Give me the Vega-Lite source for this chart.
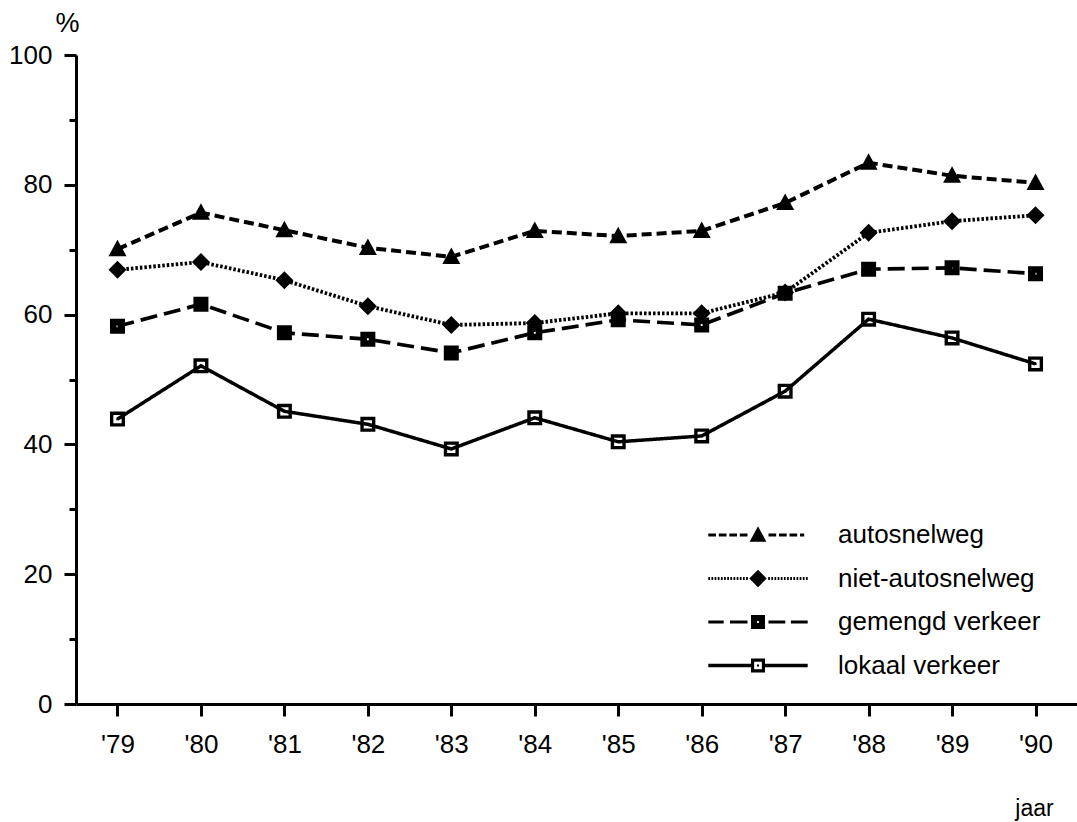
{
  "$schema": "https://vega.github.io/schema/vega-lite/v6.json",
  "width": 1001,
  "height": 649,
  "autosize": {"type": "none"},
  "padding": {"left": 76, "top": 55, "right": 0, "bottom": 118},
  "background": "white",
  "config": {
    "view": {"stroke": null},
    "font": "Liberation Sans",
    "axis": {
      "labelFont": "Liberation Sans",
      "titleFont": "Liberation Sans",
      "labelColor": "black",
      "titleColor": "black",
      "domainColor": "black",
      "tickColor": "black",
      "domainWidth": 3,
      "tickWidth": 3,
      "labelFontSize": 26,
      "titleFontWeight": "normal",
      "grid": false
    }
  },
  "data": {
    "values": [
      {"jaar": "'79", "reeks": "autosnelweg", "pct": 70.1},
      {"jaar": "'80", "reeks": "autosnelweg", "pct": 75.7},
      {"jaar": "'81", "reeks": "autosnelweg", "pct": 73.0},
      {"jaar": "'82", "reeks": "autosnelweg", "pct": 70.3},
      {"jaar": "'83", "reeks": "autosnelweg", "pct": 68.9},
      {"jaar": "'84", "reeks": "autosnelweg", "pct": 72.9},
      {"jaar": "'85", "reeks": "autosnelweg", "pct": 72.1},
      {"jaar": "'86", "reeks": "autosnelweg", "pct": 72.9},
      {"jaar": "'87", "reeks": "autosnelweg", "pct": 77.2},
      {"jaar": "'88", "reeks": "autosnelweg", "pct": 83.4},
      {"jaar": "'89", "reeks": "autosnelweg", "pct": 81.4},
      {"jaar": "'90", "reeks": "autosnelweg", "pct": 80.3},
      {"jaar": "'79", "reeks": "niet-autosnelweg", "pct": 66.9},
      {"jaar": "'80", "reeks": "niet-autosnelweg", "pct": 68.1},
      {"jaar": "'81", "reeks": "niet-autosnelweg", "pct": 65.3},
      {"jaar": "'82", "reeks": "niet-autosnelweg", "pct": 61.3},
      {"jaar": "'83", "reeks": "niet-autosnelweg", "pct": 58.4},
      {"jaar": "'84", "reeks": "niet-autosnelweg", "pct": 58.7},
      {"jaar": "'85", "reeks": "niet-autosnelweg", "pct": 60.2},
      {"jaar": "'86", "reeks": "niet-autosnelweg", "pct": 60.2},
      {"jaar": "'87", "reeks": "niet-autosnelweg", "pct": 63.4},
      {"jaar": "'88", "reeks": "niet-autosnelweg", "pct": 72.6},
      {"jaar": "'89", "reeks": "niet-autosnelweg", "pct": 74.4},
      {"jaar": "'90", "reeks": "niet-autosnelweg", "pct": 75.3},
      {"jaar": "'79", "reeks": "gemengd verkeer", "pct": 58.2},
      {"jaar": "'80", "reeks": "gemengd verkeer", "pct": 61.6},
      {"jaar": "'81", "reeks": "gemengd verkeer", "pct": 57.2},
      {"jaar": "'82", "reeks": "gemengd verkeer", "pct": 56.2},
      {"jaar": "'83", "reeks": "gemengd verkeer", "pct": 54.1},
      {"jaar": "'84", "reeks": "gemengd verkeer", "pct": 57.2},
      {"jaar": "'85", "reeks": "gemengd verkeer", "pct": 59.2},
      {"jaar": "'86", "reeks": "gemengd verkeer", "pct": 58.4},
      {"jaar": "'87", "reeks": "gemengd verkeer", "pct": 63.3},
      {"jaar": "'88", "reeks": "gemengd verkeer", "pct": 67.0},
      {"jaar": "'89", "reeks": "gemengd verkeer", "pct": 67.2},
      {"jaar": "'90", "reeks": "gemengd verkeer", "pct": 66.3},
      {"jaar": "'79", "reeks": "lokaal verkeer", "pct": 43.9},
      {"jaar": "'80", "reeks": "lokaal verkeer", "pct": 52.1},
      {"jaar": "'81", "reeks": "lokaal verkeer", "pct": 45.1},
      {"jaar": "'82", "reeks": "lokaal verkeer", "pct": 43.1},
      {"jaar": "'83", "reeks": "lokaal verkeer", "pct": 39.3},
      {"jaar": "'84", "reeks": "lokaal verkeer", "pct": 44.1},
      {"jaar": "'85", "reeks": "lokaal verkeer", "pct": 40.4},
      {"jaar": "'86", "reeks": "lokaal verkeer", "pct": 41.3},
      {"jaar": "'87", "reeks": "lokaal verkeer", "pct": 48.2},
      {"jaar": "'88", "reeks": "lokaal verkeer", "pct": 59.3},
      {"jaar": "'89", "reeks": "lokaal verkeer", "pct": 56.4},
      {"jaar": "'90", "reeks": "lokaal verkeer", "pct": 52.4}
    ]
  },
  "encoding": {
    "x": {
      "field": "jaar",
      "type": "ordinal",
      "sort": null,
      "scale": {"type": "point", "padding": 0.497},
      "axis": {
        "title": "jaar",
        "titleFontSize": 23,
        "titleX": 958,
        "titleY": 111,
        "titleAlign": "center",
        "titleBaseline": "alphabetic",
        "labelAngle": 0,
        "labelPadding": 15,
        "tickSize": 12
      }
    },
    "y": {
      "field": "pct",
      "type": "quantitative",
      "scale": {"domain": [0, 100], "nice": false, "zero": true},
      "axis": {
        "title": "%",
        "titleAngle": 0,
        "titleFontSize": 27,
        "titleX": -9,
        "titleY": -32,
        "titleAlign": "center",
        "titleBaseline": "middle",
        "values": [0, 10, 20, 30, 40, 50, 60, 70, 80, 90, 100],
        "labelExpr": "datum.value % 20 === 0 ? datum.label : ''",
        "tickSize": {"condition": {"test": "datum.value % 20 === 0", "value": 12}, "value": 7},
        "labelPadding": 12
      }
    }
  },
  "layer": [
    {
      "mark": {"type": "line", "color": "black", "strokeCap": "butt"},
      "encoding": {
        "strokeDash": {
          "field": "reeks",
          "type": "nominal",
          "scale": {
            "domain": ["autosnelweg", "niet-autosnelweg", "gemengd verkeer", "lokaal verkeer"],
            "range": [[10, 5], [2.5, 2], [17, 7], [1, 0]]
          },
          "legend": null
        },
        "strokeWidth": {
          "field": "reeks",
          "type": "nominal",
          "scale": {
            "domain": ["autosnelweg", "niet-autosnelweg", "gemengd verkeer", "lokaal verkeer"],
            "range": [4, 3.5, 4, 4]
          },
          "legend": null
        }
      }
    },
    {
      "mark": {"type": "point", "filled": true, "color": "black", "opacity": 1, "size": 225, "strokeWidth": 0},
      "encoding": {
        "shape": {
          "field": "reeks",
          "type": "nominal",
          "scale": {
            "domain": ["autosnelweg", "niet-autosnelweg", "gemengd verkeer", "lokaal verkeer"],
            "range": [
              "M0,-1.25L1.2,0.95L-1.2,0.95Z",
              "M0,-1.2L1.2,0L0,1.2L-1.2,0Z",
              "M-1,-1H1V1H-1Z M-0.13,-0.13V0.13H0.13V-0.13Z",
              "M-1,-1H1V1H-1Z M-0.55,-0.55V0.55H0.55V-0.55Z M-0.15,-0.15H0.15V0.15H-0.15Z"
            ]
          },
          "legend": null
        }
      }
    },
    {
      "mark": {"type": "point", "filled": true, "color": "black", "opacity": 1, "size": 196, "strokeWidth": 0, "yOffset": 3000, "clip": true},
      "encoding": {
        "shape": {
          "field": "reeks",
          "type": "nominal",
          "scale": {
            "domain": ["autosnelweg", "niet-autosnelweg", "gemengd verkeer", "lokaal verkeer"],
            "range": [
              "M-7.1,-0.22H-6.0V0.22H-7.1Z M-5.6,-0.22H-4.5V0.22H-5.6Z M-4.1,-0.22H-3.0V0.22H-4.1Z M-2.6,-0.22H-1.5V0.22H-2.6Z M1.5,-0.22H2.6V0.22H1.5Z M3.0,-0.22H4.1V0.22H3.0Z M4.5,-0.22H5.6V0.22H4.5Z M6.0,-0.22H6.6V0.22H6.0Z M0,-1.25L1.2,0.95L-1.2,0.95Z",
              "M-7.1,-0.2h0.25v0.4h-0.25Z M-6.65,-0.2h0.25v0.4h-0.25Z M-6.2,-0.2h0.25v0.4h-0.25Z M-5.75,-0.2h0.25v0.4h-0.25Z M-5.3,-0.2h0.25v0.4h-0.25Z M-4.85,-0.2h0.25v0.4h-0.25Z M-4.4,-0.2h0.25v0.4h-0.25Z M-3.95,-0.2h0.25v0.4h-0.25Z M-3.5,-0.2h0.25v0.4h-0.25Z M-3.05,-0.2h0.25v0.4h-0.25Z M-2.6,-0.2h0.25v0.4h-0.25Z M-2.15,-0.2h0.25v0.4h-0.25Z M-1.7,-0.2h0.25v0.4h-0.25Z M1.45,-0.2h0.25v0.4h-0.25Z M1.9,-0.2h0.25v0.4h-0.25Z M2.35,-0.2h0.25v0.4h-0.25Z M2.8,-0.2h0.25v0.4h-0.25Z M3.25,-0.2h0.25v0.4h-0.25Z M3.7,-0.2h0.25v0.4h-0.25Z M4.15,-0.2h0.25v0.4h-0.25Z M4.6,-0.2h0.25v0.4h-0.25Z M5.05,-0.2h0.25v0.4h-0.25Z M5.5,-0.2h0.25v0.4h-0.25Z M5.95,-0.2h0.25v0.4h-0.25Z M6.4,-0.2h0.25v0.4h-0.25Z M6.85,-0.2h0.25v0.4h-0.25Z M0,-1.25L1.25,0L0,1.25L-1.25,0Z",
              "M-7.1,-0.22H-4.9V0.22H-7.1Z M-4.0,-0.22H-1.5V0.22H-4.0Z M1.5,-0.22H3.9V0.22H1.5Z M4.7,-0.22H7.1V0.22H4.7Z M-1,-1H1V1H-1Z M-0.13,-0.13V0.13H0.13V-0.13Z",
              "M-7.1,-0.25H-1V0.25H-7.1Z M1,-0.25H7.1V0.25H1Z M-1,-1H1V1H-1Z M-0.55,-0.55V0.55H0.55V-0.55Z M-0.15,-0.15H0.15V0.15H-0.15Z"
            ]
          },
          "legend": {
            "orient": "none",
            "legendX": 669,
            "legendY": 467,
            "title": null,
            "labelFont": "Liberation Sans",
            "labelFontSize": 26,
            "labelColor": "black",
            "symbolSize": 196,
            "symbolStrokeWidth": 0,
            "symbolFillColor": "black",
            "symbolOpacity": 1,
            "labelOffset": 67,
            "rowPadding": 17.5,
            "labelLimit": 400
          }
        }
      }
    }
  ],
  "resolve": {"scale": {"shape": "independent"}}
}
